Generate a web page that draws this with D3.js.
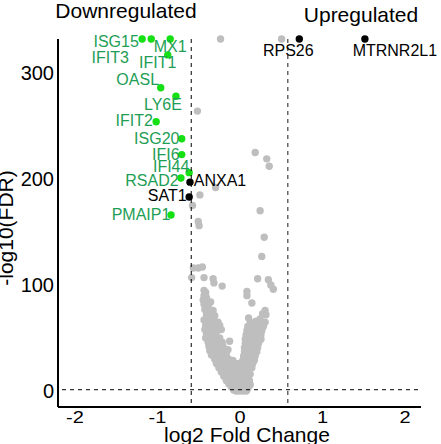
<!DOCTYPE html>
<html lang="en">
  <head>
    <meta charset="UTF-8" />
    <title>Volcano</title>
    <style>
      body { margin: 0; background: #fff; }
      text { font-family: "Liberation Sans", Arial, sans-serif; }
    </style>
  </head>
  <body>
    <svg id="svg" width="441" height="444"></svg>

    <script src="https://cdn.jsdelivr.net/npm/d3@7"></script>
    <script>
      // labelled genes
      const labelGenes = ["ISG15", "IFIT3", "MX1", "IFIT1", "OASL", "LY6E", "IFIT2", "ISG20",
        "IFI6", "IFI44", "RSAD2", "PMAIP1", "ANXA1", "SAT1", "RPS26", "MTRNR2L1"];
      const labelFC = [-1.18, -1.07, -0.84, -0.87, -0.955, -0.77, -1.01, -0.70,
        -0.70, -0.61, -0.71, -0.83, -0.60, -0.61, 0.725, 1.52];
      const labelFDR = [332, 332, 332, 317, 286, 278, 254, 238,
        223, 206, 201, 166, 197, 183, 332, 332];
      const labelGroup = ["isg", "isg", "isg", "isg", "isg", "isg", "isg", "isg",
        "isg", "isg", "isg", "isg", "other", "other", "other", "other"];

      // other genes [log2FC, -log10(FDR)]
      const otherGenes = [
        [-0.23, 332], [0.51, 332], [-0.51, 264], [0.19, 225], [0.33, 219], [0.36, 212],
        [-0.29, 192], [-0.48, 185], [-0.57, 175], [0.25, 170], [-0.50, 160], [-0.49, 156],
        [0.30, 145], [0.27, 127], [-0.56, 116], [-0.50, 116], [-0.45, 117], [-0.58, 107],
        [-0.43, 107], [-0.32, 106], [-0.31, 102], [-0.21, 99], [0.22, 106], [0.35, 105],
        [0.38, 100], [0.41, 96], [0.09, 94], [0.09, 90], [0.15, 83],
        [-0.43, 95], [-0.41, 93], [-0.43, 90], [-0.40, 88], [-0.44, 86], [-0.40, 85], [-0.35, 84],
        [-0.43, 82], [-0.38, 80], [-0.42, 77], [-0.37, 76], [-0.32, 76], [-0.40, 72], [-0.35, 73],
        [-0.30, 71], [-0.43, 67], [-0.38, 68], [-0.33, 66], [-0.26, 65], [-0.41, 62], [-0.36, 63],
        [-0.30, 61], [-0.24, 62], [-0.42, 58], [-0.37, 57], [-0.32, 59], [-0.27, 57], [-0.22, 58],
        [-0.40, 54], [-0.34, 53], [-0.29, 55], [-0.41, 50], [-0.36, 49], [-0.30, 51], [-0.24, 50],
        [-0.38, 46], [-0.33, 45], [-0.27, 47], [-0.21, 46], [-0.37, 42], [-0.31, 41], [-0.26, 43],
        [-0.20, 42], [-0.36, 38], [-0.30, 37], [-0.25, 39], [-0.19, 38], [-0.34, 34], [-0.28, 33],
        [-0.22, 35], [-0.16, 34], [-0.12, 47], [-0.14, 39], [-0.03, 20],
        [-0.30, 30], [-0.25, 29], [-0.19, 31], [-0.13, 30], [-0.08, 29],
        [-0.28, 26], [-0.23, 25], [-0.17, 27], [-0.11, 26], [-0.06, 25], [-0.01, 26],
        [-0.25, 22], [-0.20, 21], [-0.15, 23], [-0.10, 22], [-0.04, 21], [0.01, 22],
        [-0.22, 18], [-0.17, 17], [-0.12, 19], [-0.07, 18], [-0.02, 17], [0.03, 18],
        [-0.19, 14], [-0.14, 13], [-0.09, 15], [-0.04, 14], [0.01, 13], [0.06, 14], [0.10, 15],
        [-0.16, 10], [-0.11, 11], [-0.06, 10], [-0.01, 9], [0.04, 10], [0.08, 11], [0.12, 10],
        [-0.13, 7], [-0.08, 6], [-0.03, 7], [0.01, 8], [0.05, 6], [0.09, 7], [0.13, 6],
        [-0.10, 4], [-0.06, 3], [-0.01, 4], [0.03, 5], [0.07, 3], [0.11, 4],
        [-0.07, 1], [-0.03, 2], [0.01, 1], [0.05, 2], [0.09, 1],
        [-0.04, 0], [0.00, 0], [0.04, 0], [0.08, 0],
        [0.31, 76], [0.32, 72], [0.28, 73], [0.11, 69], [0.25, 68],
        [0.13, 65], [0.20, 66], [0.27, 64], [0.31, 65], [0.10, 61], [0.19, 62], [0.24, 60], [0.29, 61],
        [0.09, 57], [0.15, 58], [0.21, 56], [0.27, 57], [0.08, 53], [0.13, 54], [0.19, 52], [0.26, 53],
        [0.07, 49], [0.12, 50], [0.18, 48], [0.26, 49], [0.07, 45], [0.12, 44], [0.17, 46], [0.23, 45],
        [0.06, 41], [0.11, 42], [0.16, 40], [0.22, 41], [0.06, 37], [0.10, 36], [0.15, 38], [0.21, 37],
        [0.05, 33], [0.09, 34], [0.14, 32], [0.19, 33], [0.04, 29], [0.09, 28], [0.13, 30], [0.18, 29],
        [0.06, 25], [0.11, 24], [0.16, 26], [0.07, 21], [0.11, 20], [0.15, 22], [0.08, 17], [0.13, 16]
      ];

      const xTicks = [-2, -1, 0, 1, 2];
      const yTicks = [0, 100, 200, 300];
      const fcCut = Math.log2(1.5);
      const fdrCut = -Math.log10(0.05);

      // label placement in pixels, relative to the dot
      const labelNudge = {
        ISG15: [-26, 8], IFIT3: [-41, 24], MX1: [0, 13], IFIT1: [-10, 13], OASL: [-23, -3],
        LY6E: [-13, 14], IFIT2: [-22, 4], ISG20: [-25, 5], IFI6: [-16, 5], IFI44: [-18, -1],
        RSAD2: [-29, 8], PMAIP1: [-30, 5], ANXA1: [30, 4], SAT1: [-22, 4], RPS26: [-11, 17],
        MTRNR2L1: [30, 17]
      };

      const xScale = d3.scaleLinear().domain([-2.2, 2.2]).range([58, 421]);
      const yScale = d3.scaleLinear().domain([-15, 332]).range([407, 39]);

      const svg = d3.select("#svg");

      // grey points
      svg.append("g")
        .selectAll("circle")
        .data(otherGenes)
        .enter()
        .append("circle")
        .attr("cx", (d) => xScale(d[0]))
        .attr("cy", (d) => yScale(d[1]))
        .attr("r", 3.7)
        .attr("fill", "#bebebe");

      const labelled = labelGenes.map((g, i) => ({
        gene: g, fc: labelFC[i], fdr: labelFDR[i], group: labelGroup[i]
      }));

      svg.append("g")
        .selectAll("circle")
        .data(labelled)
        .enter()
        .append("circle")
        .attr("cx", (d) => xScale(d.fc))
        .attr("cy", (d) => yScale(d.fdr))
        .attr("r", 3.7)
        .attr("fill", (d) => (d.group === "isg" ? "#14e014" : "#000"));

      // threshold lines
      const lines = svg.append("g").attr("fill", "none").attr("stroke-width", 1).attr("stroke-dasharray", "4,4");
      lines.append("line")
        .attr("x1", xScale(-fcCut)).attr("x2", xScale(-fcCut))
        .attr("y1", yScale(332)).attr("y2", yScale(-15))
        .attr("stroke", "#000");
      lines.append("line")
        .attr("x1", xScale(fcCut)).attr("x2", xScale(fcCut))
        .attr("y1", yScale(332)).attr("y2", yScale(-15))
        .attr("stroke", "#666").attr("stroke-width", 1.5);
      lines.append("line")
        .attr("x1", 62).attr("x2", 418)
        .attr("y1", yScale(fdrCut)).attr("y2", yScale(fdrCut))
        .attr("stroke", "#000");

      // labels
      svg.append("g")
        .selectAll("text")
        .data(labelled)
        .enter()
        .append("text")
        .attr("x", (d) => xScale(d.fc) + labelNudge[d.gene][0])
        .attr("y", (d) => yScale(d.fdr) + labelNudge[d.gene][1])
        .attr("text-anchor", "middle")
        .attr("font-size", 16)
        .attr("fill", (d) => (d.group === "isg" ? "#1e9e55" : "#000"))
        .text((d) => d.gene);

      // axes
      const bottomAxis = d3.axisBottom(xScale).tickValues(xTicks).tickSize(0)
        .tickFormat((d) => String(d));
      const leftAxis = d3.axisLeft(yScale).tickValues(yTicks).tickSize(0).tickPadding(4);

      const gx = svg.append("g")
        .attr("transform", `translate(0, 407)`)
        .call(bottomAxis);
      gx.select(".domain").attr("stroke-width", 2).attr("d", "M58,0H421");
      // x tick labels are squat in the original
      gx.selectAll("text")
        .attr("y", 20).attr("dy", 0)
        .attr("transform", "scale(1,0.82)")
        .attr("font-size", 20).attr("fill", "#000")
        .attr("font-family", "Liberation Sans, Arial, sans-serif");

      const gy = svg.append("g")
        .attr("transform", `translate(58, 0)`)
        .call(leftAxis);
      gy.select(".domain").attr("stroke-width", 2).attr("d", "M0,407V39");
      gy.selectAll("text").attr("font-size", 20).attr("fill", "#000")
        .attr("font-family", "Liberation Sans, Arial, sans-serif");

      // titles
      svg.append("text").attr("x", 126).attr("y", 18).attr("text-anchor", "middle")
        .attr("font-size", 21).text("Downregulated");
      svg.append("text").attr("x", 361).attr("y", 22).attr("text-anchor", "middle")
        .attr("font-size", 21).text("Upregulated");
      svg.append("text").attr("x", 247).attr("y", 442).attr("text-anchor", "middle")
        .attr("font-size", 21).text("log2 Fold Change");
      svg.append("text")
        .attr("transform", "translate(13, 228) rotate(-90)")
        .attr("text-anchor", "middle")
        .attr("font-size", 21).text("-log10(FDR)");
    </script>
  </body>
</html>
